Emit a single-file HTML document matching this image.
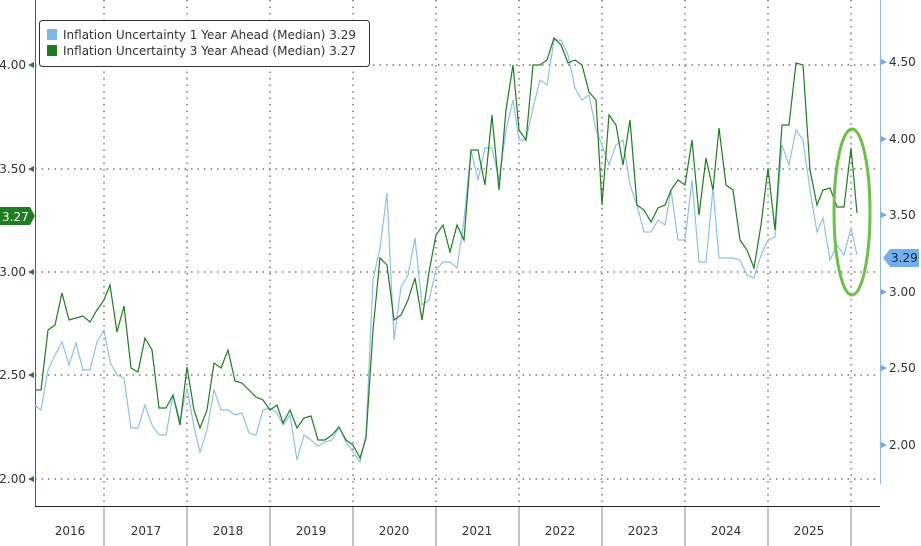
<!DOCTYPE html>
<html><head><meta charset="utf-8"><style>
body{margin:0;background:#fff;}
svg{display:block;font-family:"DejaVu Sans","Liberation Sans",sans-serif;}
</style></head><body>
<svg width="921" height="546" viewBox="0 0 921 546" xmlns="http://www.w3.org/2000/svg">
<rect width="921" height="546" fill="#fff"/>
<g stroke="#333" stroke-width="1" stroke-dasharray="1.5,5">
<line x1="35" y1="65" x2="880" y2="65"/><line x1="35" y1="169" x2="880" y2="169"/><line x1="35" y1="272" x2="880" y2="272"/><line x1="35" y1="375" x2="880" y2="375"/><line x1="35" y1="479" x2="880" y2="479"/>
<line x1="104" y1="0" x2="104" y2="506"/><line x1="187" y1="0" x2="187" y2="506"/><line x1="270" y1="0" x2="270" y2="506"/><line x1="353" y1="0" x2="353" y2="506"/><line x1="436" y1="0" x2="436" y2="506"/><line x1="519" y1="0" x2="519" y2="506"/><line x1="602" y1="0" x2="602" y2="506"/><line x1="685" y1="0" x2="685" y2="506"/><line x1="768" y1="0" x2="768" y2="506"/><line x1="851" y1="0" x2="851" y2="506"/>
</g>
<g stroke="#888" stroke-width="1">
<line x1="104" y1="506" x2="104" y2="546"/><line x1="187" y1="506" x2="187" y2="546"/><line x1="270" y1="506" x2="270" y2="546"/><line x1="353" y1="506" x2="353" y2="546"/><line x1="436" y1="506" x2="436" y2="546"/><line x1="519" y1="506" x2="519" y2="546"/><line x1="602" y1="506" x2="602" y2="546"/><line x1="685" y1="506" x2="685" y2="546"/><line x1="768" y1="506" x2="768" y2="546"/><line x1="851" y1="506" x2="851" y2="546"/>
</g>
<line x1="35" y1="506.5" x2="880" y2="506.5" stroke="#222"/>
<line x1="35.5" y1="0" x2="35.5" y2="506" stroke="#2a7a2a"/>
<line x1="880.5" y1="0" x2="880.5" y2="484" stroke="#8ab6e0"/>
<g font-size="12" fill="#333" text-anchor="middle">
<text x="70" y="535">2016</text><text x="146" y="535">2017</text><text x="228" y="535">2018</text><text x="311" y="535">2019</text><text x="394" y="535">2020</text><text x="477" y="535">2021</text><text x="560" y="535">2022</text><text x="643" y="535">2023</text><text x="726" y="535">2024</text><text x="809" y="535">2025</text>
</g>
<g font-size="12" fill="#333" text-anchor="end">
<text x="26" y="69">4.00</text><text x="26" y="173">3.50</text><text x="26" y="276">3.00</text><text x="26" y="379">2.50</text><text x="26" y="483">2.00</text>
</g>
<g fill="#2a7a2a"><path d="M28 65l6-3v6z"/><path d="M28 169l6-3v6z"/><path d="M28 272l6-3v6z"/><path d="M28 375l6-3v6z"/><path d="M28 479l6-3v6z"/></g>
<g font-size="12" fill="#333"><text x="889" y="66">4.50</text><text x="889" y="143">4.00</text><text x="889" y="219">3.50</text><text x="889" y="296">3.00</text><text x="889" y="372">2.50</text><text x="889" y="449">2.00</text></g>
<g fill="#6fa8dc"><path d="M887 62l-6-3v6z"/><path d="M887 139l-6-3v6z"/><path d="M887 215l-6-3v6z"/><path d="M887 292l-6-3v6z"/><path d="M887 368l-6-3v6z"/><path d="M887 445l-6-3v6z"/></g>
<path d="M0 207h30l5 9-5 9H0z" fill="#1e7d1e"/><text x="2" y="221" font-size="12" fill="#fff">3.27</text>
<path d="M883 258l7-9h29v18h-29z" fill="#72aef0"/><text x="891" y="262" font-size="12" fill="#123">3.29</text>
<polyline fill="none" stroke="#8fc0e8" stroke-width="1.2" points="35,405 41,410 48,370 55,355 62,342 69,365 76,343 83,370 90,370 97,342 104,330 110,362 117,375 124,378 131,428 138,428 145,405 152,425 159,435 166,435 173,395 180,420 187,388 194,427 200,452 207,430 214,390 221,410 228,410 235,415 242,413 249,433 256,435 263,410 270,408 277,413 283,425 290,415 297,460 304,435 311,440 318,446 325,442 332,440 339,427 346,442 353,452 360,462 366,435 373,280 380,248 387,193 394,340 401,287 408,275 415,238 422,305 429,300 436,270 443,262 450,262 457,268 464,220 471,150 478,180 485,148 492,148 499,180 506,130 513,100 519,140 526,140 533,108 540,80 547,85 554,40 561,40 568,55 575,88 582,100 589,95 596,130 602,145 609,165 616,145 623,140 630,185 637,205 644,232 651,232 658,220 665,225 671,190 678,240 685,240 692,180 699,262 706,262 713,188 719,258 726,258 733,258 740,260 747,275 754,278 761,255 768,240 775,237 782,145 789,165 796,130 803,140 810,190 817,232 823,218 830,260 837,245 844,255 851,228 857,255"/>
<polyline fill="none" stroke="#1e7d1e" stroke-width="1.2" points="35,390 41,390 48,330 55,325 62,293 69,320 76,318 83,316 90,322 97,310 104,300 110,285 117,332 124,306 131,368 138,372 145,338 152,350 159,408 166,408 173,395 180,425 187,367 194,410 200,428 207,410 214,363 221,368 228,350 235,381 242,383 249,390 256,397 263,400 270,410 277,405 283,423 290,410 297,428 304,418 311,416 318,440 325,440 332,435 339,427 346,440 353,445 360,458 366,438 373,330 380,258 387,265 394,320 401,315 408,300 415,278 422,320 429,272 436,235 443,225 450,252 457,225 464,240 471,150 478,150 485,185 492,115 499,190 506,110 513,65 519,130 526,140 533,65 540,65 547,60 554,38 561,45 568,63 575,60 582,65 589,92 596,100 602,205 609,115 616,125 623,165 630,120 637,205 644,210 651,222 658,208 665,205 671,190 678,180 685,185 692,140 699,215 706,158 713,190 719,128 726,185 733,190 740,240 747,250 754,268 761,225 768,168 775,230 782,125 789,125 796,63 803,65 810,170 817,205 823,190 830,188 837,207 844,207 851,148 857,213"/>
<ellipse cx="852" cy="212" rx="18" ry="83" fill="none" stroke="#6cc04a" stroke-width="3"/>
<rect x="39.5" y="20.5" width="330" height="46" rx="3" fill="#fff" stroke="#333"/>
<rect x="47" y="29" width="10" height="11" fill="#7fb6ea"/><rect x="47" y="45" width="10" height="11" fill="#1e7d1e"/>
<g font-size="12" fill="#333"><text x="63" y="39">Inflation Uncertainty 1 Year Ahead (Median) 3.29</text><text x="63" y="55">Inflation Uncertainty 3 Year Ahead (Median) 3.27</text></g>
</svg>
</body></html>
